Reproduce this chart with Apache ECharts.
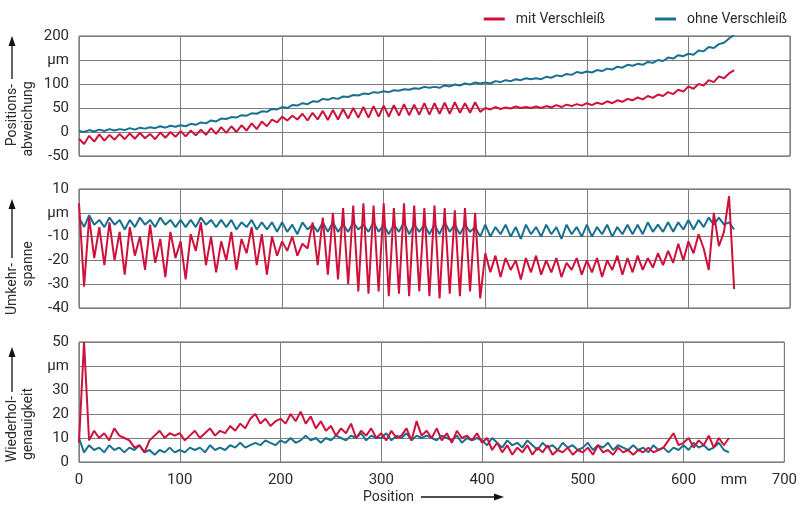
<!DOCTYPE html>
<html>
<head>
<meta charset="utf-8">
<script src="https://cdn.jsdelivr.net/npm/echarts@6/dist/echarts.min.js"></script>
<style>html,body{margin:0;padding:0;background:#fff}#c{width:800px;height:515px}</style>
</head>
<body>
<div id="c"></div>
<script>
// sampling step along the position axis (mm)
const step = 5;
const seriesNames = ['mit Verschleiß', 'ohne Verschleiß'];
const xTicks = [0, 100, 200, 300, 400, 500, 600, 700];

// Panel 1: Positionsabweichung (µm)
const posMit = [
 -14,-25,-8,-20,-5,-18,-6,-16,-4,-15,
 -3,-14,-2,-13,-4,-15,-1,-12,0,-10,
 2,-9,3,-7,5,-6,8,-4,10,-2,
 12,0,14,3,18,6,22,12,26,20,
 32,24,34,26,38,24,40,26,44,25,
 46,26,48,28,50,30,52,30,54,32,
 55,32,56,34,58,35,57,36,60,36,
 60,38,61,38,62,40,60,40,62,42,
 50,47,52,48,51,49,53,50,52,50,
 53,50,54,51,56,52,57,54,58,55,
 60,56,61,58,64,60,66,63,69,66,
 72,68,75,71,78,75,83,79,88,84,
 95,90,100,97,108,104,116,112,122,129
];
const posOhne = [
 2,0,4,1,5,2,6,3,6,4,
 8,5,9,7,10,8,12,9,13,11,
 14,12,17,15,20,18,24,22,28,27,
 31,30,35,34,39,38,43,42,48,47,
 52,50,56,55,60,58,64,63,69,67,
 71,69,74,73,77,76,80,79,83,82,
 85,83,87,86,89,88,91,90,94,92,
 94,92,97,95,99,97,101,99,103,101,
 103,101,106,104,108,106,110,108,112,110,
 112,110,115,113,118,116,121,119,125,123,
 126,124,129,127,132,130,136,134,140,138,
 142,140,146,144,150,148,155,153,160,158,
 163,161,170,168,177,175,183,186,195,202
];

// Panel 2: Umkehrspanne (µm)
const umkMit = [
 4,-31,-2,-19,-6,-22,-4,-20,-8,-26,
 -6,-18,-10,-24,-5,-21,-11,-27,-8,-19,
 -12,-28,-9,-16,-4,-22,-10,-25,-12,-20,
 -8,-24,-11,-17,-6,-22,-9,-26,-10,-18,
 -12,-16,-10,-18,-13,-15,-4,-22,-2,-26,
 0,-28,2,-30,3,-33,4,-34,3,-33,
 4,-35,2,-34,4,-35,3,-33,2,-35,
 3,-36,2,-34,1,-35,2,-33,0,-36,
 -17,-25,-18,-27,-19,-24,-20,-28,-19,-25,
 -18,-26,-20,-25,-19,-27,-21,-24,-19,-26,
 -20,-25,-19,-27,-20,-24,-18,-26,-19,-25,
 -18,-24,-19,-23,-17,-22,-16,-21,-13,-20,
 -12,-17,-9,-15,-24,0,-14,-8,7,-32
];
const umkOhne = [
 -2,-6,-1,-5,-3,-6,-2,-5,-3,-7,
 -3,-6,-2,-5,-3,-6,-2,-5,-3,-6,
 -3,-6,-3,-6,-2,-5,-3,-6,-3,-6,
 -3,-7,-4,-6,-3,-7,-4,-7,-4,-8,
 -4,-8,-5,-9,-4,-7,-5,-8,-4,-8,
 -4,-8,-5,-8,-4,-7,-5,-8,-4,-8,
 -5,-9,-5,-8,-4,-9,-5,-8,-5,-9,
 -5,-9,-4,-8,-5,-9,-5,-8,-6,-10,
 -5,-10,-6,-9,-5,-10,-6,-11,-5,-9,
 -6,-10,-5,-9,-6,-11,-5,-9,-6,-10,
 -5,-10,-6,-9,-5,-10,-6,-9,-5,-9,
 -5,-9,-4,-8,-5,-8,-4,-8,-4,-7,
 -3,-7,-3,-6,-2,-5,-2,-5,-4,-7
];

// Panel 3: Wiederholgenauigkeit (µm)
const wdhMit = [
 8,50,9,13,10,12,9,14,11,10,
 9,6,7,4,9,11,13,10,12,11,
 12,9,11,13,10,12,14,11,13,12,
 15,13,16,14,18,20,16,18,15,17,
 18,16,20,17,21,16,19,14,17,13,
 15,11,14,12,16,10,13,11,14,10,
 12,9,13,10,11,14,9,17,11,13,
 10,14,9,12,8,13,10,11,9,12,
 8,10,5,8,4,7,3,6,4,7,
 3,6,4,7,3,5,4,6,3,5,
 4,6,3,7,4,5,3,6,4,5,
 3,5,4,6,4,5,6,9,12,7,
 8,10,6,9,7,11,6,10,7,10
];
const wdhOhne = [
 10,4,7,5,6,4,7,5,6,4,
 6,5,7,4,5,3,5,4,6,4,
 5,4,6,5,6,4,7,5,6,5,
 7,6,8,6,7,8,7,9,8,7,
 9,8,10,8,9,11,9,10,8,10,
 9,11,10,9,11,10,12,9,11,10,
 10,12,9,11,10,12,9,11,10,11,
 10,9,11,10,9,11,8,10,9,10,
 9,7,10,8,6,9,7,8,6,9,
 7,5,8,6,7,5,8,6,7,5,
 6,8,5,7,6,8,5,7,6,5,
 7,5,6,4,7,5,6,4,6,5,
 7,5,8,6,7,5,6,8,5,4
];

const FONT = "Roboto, 'Liberation Sans', sans-serif";
const FS = 14;
const TXT = '#2a2a2a';
const RED = '#cf103a';
const BLUE = '#17708f';

function pairs(arr) { return arr.map((v, i) => [i * step, v]); }

const grids = [
  { left: 79, right: 10, top: 36, height: 120 },
  { left: 79, right: 10, top: 189, height: 119 },
  { left: 79, right: 10, top: 342, height: 120 }
].map(g => Object.assign(g, { show: true, borderColor: '#5a5a5a', borderWidth: 1, containLabel: false }));

function xAx(gi, showLabels) {
  return {
    type: 'value', gridIndex: gi, position: 'bottom', min: xTicks[0], max: xTicks[xTicks.length - 1], interval: 100,
    axisLine: { show: false }, axisTick: { show: false },
    axisLabel: { show: showLabels, color: TXT, fontFamily: FONT, fontSize: FS + 1, margin: 11 },
    splitLine: { show: true, lineStyle: { color: '#7e7e7e', width: 1 } }
  };
}
function yAx(gi, min, max, interval, unitAt) {
  return {
    type: 'value', gridIndex: gi, min: min, max: max, interval: interval,
    axisLine: { show: false }, axisTick: { show: false },
    axisLabel: { color: TXT, fontFamily: FONT, fontSize: FS + 1, margin: 10,
      formatter: v => (v === unitAt ? 'µm' : String(v)) },
    splitLine: { show: true, lineStyle: { color: '#7e7e7e', width: 1 } }
  };
}

const xAxes = [xAx(0, false), xAx(1, false), xAx(2, true),
  { type: 'value', gridIndex: 2, position: 'bottom', min: 0, max: 700, interval: 50,
    axisLine: { show: false }, axisTick: { show: false }, splitLine: { show: false },
    axisLabel: { color: TXT, fontFamily: FONT, fontSize: FS + 1, margin: 11,
      formatter: v => (v === 650 ? 'mm' : '') } }
];
const yAxes = [yAx(0, -50, 200, 50, 150), yAx(1, -40, 10, 10, 0), yAx(2, 0, 50, 10, 40)];

function line(name, data, gi, color) {
  return { name: name, type: 'line', xAxisIndex: gi, yAxisIndex: gi, data: pairs(data),
    showSymbol: false, symbol: 'none', lineStyle: { color: color, width: 2 }, itemStyle: { color: color } };
}

const series = [
  line(seriesNames[1], posOhne, 0, BLUE), line(seriesNames[0], posMit, 0, RED),
  line(seriesNames[1], umkOhne, 1, BLUE), line(seriesNames[0], umkMit, 1, RED),
  line(seriesNames[1], wdhOhne, 2, BLUE), line(seriesNames[0], wdhMit, 2, RED)
];

function vText(txt, x, y, align) {
  return { type: 'text', x: x, y: y, rotation: Math.PI / 2,
    style: { text: txt, fill: TXT, font: FS + 'px ' + FONT, align: align, verticalAlign: 'middle' } };
}
function upArrow(x, y1, y2) {
  return [
    { type: 'line', shape: { x1: x, y1: y1, x2: x, y2: y2 + 8 }, style: { stroke: '#111', lineWidth: 1.3 } },
    { type: 'polygon', shape: { points: [[x, y2], [x - 3.5, y2 + 10], [x + 3.5, y2 + 10]] }, style: { fill: '#111' } }
  ];
}

const graphic = [
  vText('Positions-', 12, 84, 'right'), vText('abweichung', 28, 119, 'center'), ...upArrow(12, 79, 36),
  vText('Umkehr-', 12, 263, 'right'), vText('spanne', 28, 264, 'center'), ...upArrow(12, 258, 199),
  vText('Wiederhol-', 12, 396, 'right'), vText('genauigkeit', 28, 424, 'center'), ...upArrow(12, 392, 347),
  { type: 'text', x: 414, y: 497, style: { text: 'Position', fill: TXT, font: FS + 'px ' + FONT, align: 'right', verticalAlign: 'middle' } },
  { type: 'line', shape: { x1: 421, y1: 497, x2: 495, y2: 497 }, style: { stroke: '#111', lineWidth: 1.3 } },
  { type: 'polygon', shape: { points: [[504, 497], [494, 493.5], [494, 500.5]] }, style: { fill: '#111' } }
];

const chart = echarts.init(document.getElementById('c'), null, { renderer: 'canvas' });
chart.setOption({
  animation: false,
  backgroundColor: '#fff',
  textStyle: { fontFamily: FONT },
  legend: {
    data: seriesNames, right: 8, top: 7, icon: 'rect', itemWidth: 21, itemHeight: 3, itemGap: 50,
    textStyle: { color: TXT, fontFamily: FONT, fontSize: FS, padding: [0, 0, 0, 6] }
  },
  grid: grids,
  xAxis: xAxes,
  yAxis: yAxes,
  series: series,
  graphic: graphic
});
</script>
</body>
</html>
